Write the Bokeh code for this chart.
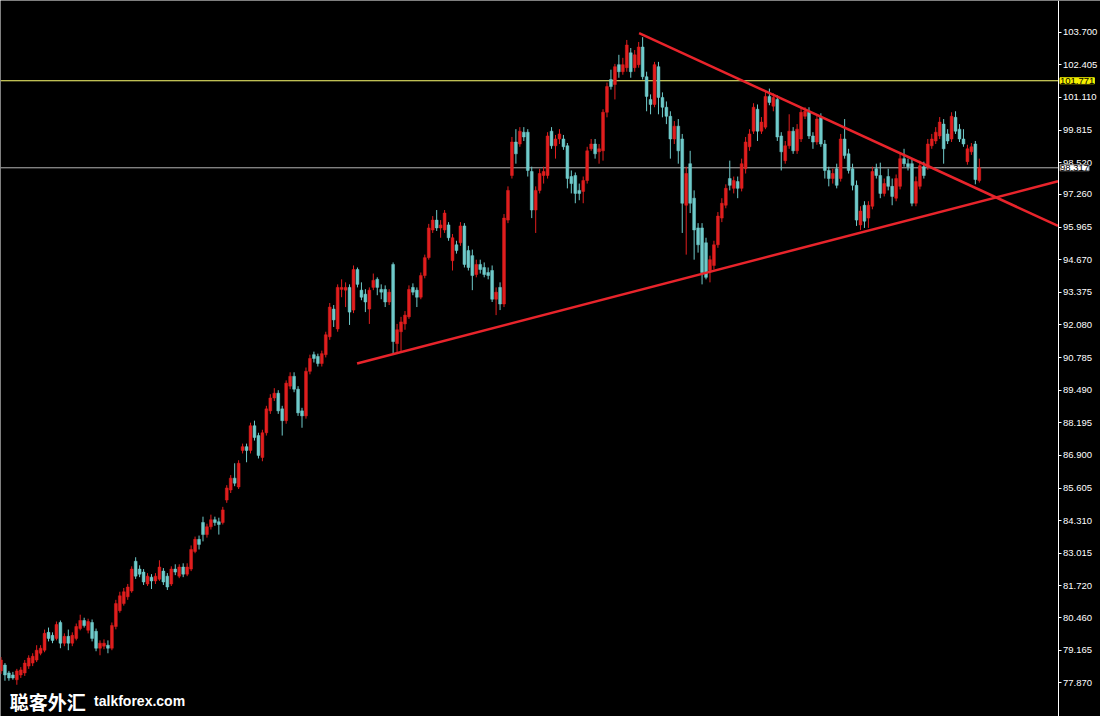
from bokeh.plotting import figure
from bokeh.models import Range1d, FixedTicker, NumeralTickFormatter, Label, ColumnDataSource
from bokeh.embed import file_html
from bokeh.resources import INLINE

# ---- candle data (daily OHLC) ----
opens = [
    78.35, 78.58, 78.27, 78.19, 78.00, 78.19, 78.27, 78.54, 78.66, 78.78,
    79.05, 79.17, 79.88, 79.76, 79.64, 80.27, 79.45, 79.72, 79.45, 79.64,
    80.03, 80.35, 79.96, 80.27, 79.92, 79.25, 79.33, 79.37, 79.25, 80.11,
    80.74, 81.02, 81.29, 81.52, 82.70, 82.39, 82.27, 81.80, 82.07, 81.92,
    81.99, 82.31, 82.11, 81.80, 82.39, 82.11, 82.47, 82.19, 82.39, 83.09,
    83.57, 84.24, 83.76, 84.07, 84.35, 84.27, 84.24, 85.13, 85.53, 86.00,
    85.65, 87.10, 87.25, 87.10, 88.08, 87.69, 86.82, 87.80, 88.67, 89.18,
    89.37, 88.75, 88.28, 89.65, 90.04, 89.53, 88.67, 88.47, 90.24, 90.90,
    90.83, 90.55, 90.90, 91.61, 92.71, 91.92, 93.49, 93.46, 93.57, 92.67,
    94.28, 93.46, 93.30, 92.71, 93.57, 93.89, 93.49, 93.49, 92.99, 94.48,
    91.34, 91.81, 92.12, 92.40, 93.57, 93.46, 93.18, 94.04, 94.75, 95.85,
    96.24, 95.93, 95.85, 96.05, 94.63, 95.26, 95.34, 96.01, 95.03, 94.83,
    94.08, 94.48, 94.36, 94.16, 94.24, 93.10, 93.57, 92.91, 96.24, 98.01,
    99.34, 99.26, 99.73, 99.73, 98.17, 96.64, 97.42, 98.01, 98.01, 99.77,
    99.19, 99.46, 99.46, 99.19, 97.97, 98.01, 97.42, 97.38, 97.81, 99.07,
    99.26, 98.95, 98.99, 100.52, 101.82, 101.62, 102.41, 102.13, 102.29, 102.88,
    102.29, 102.41, 103.11, 101.93, 101.03, 100.83, 102.33, 101.11, 100.72, 100.36,
    99.46, 99.97, 99.46, 96.83, 98.48, 97.11, 95.93, 95.93, 95.34, 94.24,
    94.44, 95.26, 96.32, 96.83, 97.89, 97.50, 97.77, 97.50, 98.28, 99.15,
    99.77, 100.64, 99.77, 99.93, 101.15, 100.76, 101.03, 99.58, 98.60, 99.19,
    99.77, 98.99, 99.46, 100.36, 100.52, 99.58, 99.34, 100.32, 99.26, 98.21,
    97.89, 98.28, 97.89, 99.46, 98.87, 98.28, 97.62, 96.05, 96.83, 96.32,
    96.79, 98.28, 98.01, 97.30, 97.97, 97.58, 97.11, 97.58, 98.68, 98.48,
    98.48, 96.91, 97.58, 98.36, 98.36, 99.19, 99.38, 99.58, 100.05, 99.66,
    99.46, 100.32, 99.85, 99.46, 98.56, 98.95, 99.26, 97.81,
]
highs = [
    78.90, 78.66, 78.35, 78.31, 78.43, 78.50, 78.78, 78.97, 79.05, 79.37,
    79.37, 79.99, 80.07, 79.88, 80.31, 80.35, 79.84, 79.99, 79.88, 80.23,
    80.58, 80.46, 80.42, 80.39, 80.03, 79.56, 79.60, 79.56, 80.27, 81.17,
    81.49, 81.64, 81.80, 82.50, 82.86, 82.54, 82.39, 82.23, 82.19, 82.23,
    82.74, 82.43, 82.23, 82.50, 82.58, 82.58, 82.62, 82.62, 83.33, 83.68,
    83.72, 84.47, 84.19, 84.55, 84.47, 84.43, 84.86, 85.72, 86.12, 86.59,
    86.71, 87.37, 87.37, 88.20, 88.28, 87.80, 87.92, 88.87, 89.33, 89.57,
    89.49, 88.87, 89.88, 90.20, 90.20, 89.65, 88.79, 90.39, 90.90, 91.02,
    90.94, 91.06, 91.81, 92.95, 92.87, 93.69, 93.89, 93.77, 93.69, 94.44,
    94.36, 93.77, 93.50, 93.57, 94.12, 93.97, 93.69, 93.65, 93.50, 94.56,
    92.12, 92.40, 92.63, 93.65, 93.73, 93.57, 94.16, 94.87, 96.09, 96.40,
    96.64, 96.24, 96.64, 96.16, 95.69, 95.42, 96.16, 96.12, 95.22, 95.07,
    94.67, 94.67, 94.56, 94.36, 94.44, 93.57, 93.77, 96.48, 97.58, 99.54,
    99.85, 99.93, 99.93, 99.85, 98.36, 97.58, 98.28, 98.36, 99.73, 99.93,
    99.62, 99.85, 99.62, 99.30, 98.21, 98.13, 97.69, 97.97, 99.15, 99.46,
    99.46, 99.26, 100.64, 101.70, 102.21, 102.44, 102.80, 102.68, 103.39, 103.07,
    102.99, 103.31, 103.50, 102.13, 101.23, 102.52, 102.52, 101.31, 100.95, 100.56,
    100.17, 100.25, 99.66, 98.36, 98.99, 97.42, 96.12, 96.12, 95.54, 94.83,
    95.42, 96.56, 97.11, 97.66, 98.60, 97.97, 97.97, 98.68, 99.54, 99.85,
    100.88, 100.83, 100.33, 101.35, 101.46, 101.27, 101.19, 99.73, 99.38, 100.44,
    99.93, 100.05, 100.72, 100.72, 100.72, 99.73, 100.44, 100.48, 99.42, 98.36,
    98.28, 98.48, 99.66, 100.25, 99.07, 98.48, 97.81, 96.79, 96.99, 96.99,
    98.36, 98.48, 98.52, 97.89, 98.28, 97.89, 98.05, 98.87, 99.07, 98.68,
    98.68, 97.97, 98.60, 98.56, 99.46, 99.66, 99.93, 100.33, 100.25, 99.85,
    100.52, 100.56, 100.05, 99.85, 99.23, 99.30, 99.38, 98.68,
]
lows = [
    78.23, 77.96, 77.96, 78.00, 77.80, 78.07, 78.15, 78.43, 78.54, 78.70,
    78.97, 79.09, 79.52, 79.45, 79.56, 79.25, 79.33, 79.17, 79.33, 79.56,
    79.96, 80.07, 79.84, 79.52, 79.13, 78.97, 79.21, 79.05, 79.17, 80.00,
    80.66, 80.94, 81.17, 81.45, 82.00, 82.07, 81.76, 81.72, 81.60, 81.80,
    81.92, 81.76, 81.56, 81.72, 82.15, 82.03, 82.07, 82.11, 82.31, 83.02,
    83.17, 83.49, 83.64, 83.96, 84.11, 83.76, 84.16, 85.02, 85.41, 85.68,
    85.57, 86.98, 86.63, 86.98, 87.49, 86.78, 86.67, 87.69, 88.55, 89.06,
    88.55, 87.69, 88.16, 89.53, 89.41, 88.47, 88.00, 88.36, 90.12, 90.59,
    90.43, 90.43, 90.79, 91.49, 92.00, 91.81, 93.18, 92.79, 92.08, 92.55,
    93.57, 93.06, 92.59, 92.12, 93.46, 93.26, 93.10, 92.79, 92.87, 90.94,
    90.94, 91.02, 91.89, 92.32, 93.26, 92.79, 93.10, 93.93, 94.67, 95.73,
    95.81, 95.54, 95.73, 95.42, 94.24, 94.91, 95.22, 94.36, 94.24, 93.46,
    93.97, 94.12, 93.97, 93.89, 92.99, 92.47, 92.67, 92.79, 96.12, 97.89,
    98.48, 99.15, 99.38, 97.97, 96.32, 95.73, 97.30, 97.69, 97.89, 99.07,
    98.68, 99.26, 99.03, 97.50, 97.30, 96.91, 97.03, 96.91, 97.69, 98.99,
    98.68, 98.48, 98.60, 100.32, 101.42, 101.03, 101.89, 102.01, 102.13, 101.89,
    102.13, 102.29, 101.82, 100.56, 100.44, 100.72, 100.44, 100.32, 100.05, 98.68,
    99.26, 98.48, 95.73, 94.87, 96.52, 94.67, 94.95, 93.69, 93.89, 93.77,
    94.28, 95.14, 96.16, 96.71, 97.42, 97.30, 97.11, 97.38, 98.09, 98.99,
    99.66, 99.38, 99.66, 99.85, 100.80, 100.56, 99.38, 98.21, 98.48, 99.07,
    98.87, 98.87, 99.34, 100.25, 99.46, 99.07, 99.23, 99.15, 97.89, 97.58,
    97.69, 97.50, 97.77, 98.68, 98.09, 97.42, 96.01, 95.85, 95.93, 95.93,
    96.67, 97.89, 97.11, 97.18, 97.42, 96.83, 96.99, 97.46, 98.36, 98.21,
    96.79, 96.79, 97.46, 97.89, 98.24, 99.07, 99.26, 99.46, 98.48, 99.26,
    99.34, 99.66, 99.34, 99.15, 98.44, 98.83, 97.66, 97.73,
]
closes = [
    78.78, 78.19, 78.07, 78.07, 78.35, 78.39, 78.66, 78.86, 78.93, 79.17,
    79.25, 79.84, 79.64, 79.56, 80.19, 79.45, 79.72, 79.45, 79.76, 80.11,
    80.35, 80.15, 80.31, 79.64, 79.25, 79.45, 79.45, 79.25, 80.15, 81.02,
    81.33, 81.49, 81.68, 82.39, 82.11, 82.19, 81.88, 82.11, 81.92, 82.11,
    82.47, 81.88, 81.68, 82.39, 82.27, 82.47, 82.19, 82.47, 83.17, 83.57,
    83.37, 83.76, 84.07, 84.35, 84.24, 84.16, 84.74, 85.61, 86.00, 85.80,
    86.59, 87.25, 87.10, 88.08, 87.61, 86.90, 87.80, 88.75, 89.18, 89.37,
    88.67, 88.28, 89.77, 90.04, 89.53, 88.59, 88.47, 90.24, 90.75, 90.75,
    90.55, 90.94, 91.69, 92.79, 92.28, 93.57, 93.57, 93.57, 92.59, 94.28,
    93.69, 93.18, 92.99, 93.46, 93.85, 93.57, 93.38, 92.99, 93.38, 91.42,
    91.89, 92.20, 92.47, 93.49, 93.38, 93.18, 94.04, 94.75, 95.93, 96.24,
    95.93, 96.05, 96.52, 95.54, 95.54, 95.03, 96.01, 94.48, 94.36, 94.04,
    94.48, 94.28, 94.08, 94.04, 93.10, 93.38, 92.91, 96.32, 97.42, 99.34,
    98.87, 99.77, 99.54, 98.21, 96.64, 97.42, 98.09, 98.17, 99.58, 99.19,
    99.46, 99.66, 99.15, 97.89, 97.69, 97.30, 97.30, 97.81, 98.99, 99.26,
    98.87, 99.07, 100.52, 101.54, 101.54, 102.33, 102.13, 102.41, 103.19, 102.13,
    102.80, 103.11, 101.93, 101.15, 100.83, 102.41, 101.11, 100.72, 100.36, 99.46,
    99.97, 98.99, 96.91, 98.09, 96.91, 95.85, 95.26, 94.16, 93.97, 94.67,
    95.26, 96.40, 96.91, 97.50, 97.62, 97.81, 97.50, 98.48, 99.34, 99.66,
    100.72, 99.77, 100.13, 101.15, 100.91, 101.11, 99.54, 98.95, 99.19, 99.77,
    98.99, 99.85, 100.52, 100.56, 99.58, 99.34, 100.25, 99.26, 98.21, 97.89,
    98.09, 97.62, 99.46, 98.80, 98.21, 97.62, 96.24, 96.60, 96.20, 96.83,
    98.17, 98.01, 97.30, 97.69, 97.58, 97.18, 97.89, 98.68, 98.48, 98.36,
    96.91, 97.77, 98.40, 98.01, 99.26, 99.46, 99.73, 100.13, 99.07, 99.38,
    100.36, 99.77, 99.46, 99.26, 99.07, 99.15, 97.85, 98.32,
]

# price-axis tick values
y_ticks = [103.700, 102.405, 101.110, 99.815, 98.520, 97.260, 95.965,
           94.670, 93.375, 92.080, 90.785, 89.490, 88.195, 86.900, 85.605,
           84.310, 83.015, 81.720, 80.460, 79.165, 77.870]

# horizontal price levels
level_marked = 101.771
level_last = 98.317

# trendlines (bar index, price)
support_x = [89.9, 266.875]
support_y = [90.55, 97.78]
resist_x = [161.1, 266.875]
resist_y = [103.66, 96.01]

RED = "#e01e1e"
CYAN = "#6fcaca"
X_START = -0.125
AXIS_X = 266.875      # bar-index position of the price axis line
X_END = 277.6         # right edge of the window
FONT_PX = "9.5px"

n = len(opens)
idx = list(range(n))
colors = [RED if c >= o else CYAN for o, c in zip(opens, closes)]
src = ColumnDataSource(dict(
    x=idx, o=opens, h=highs, l=lows, c=closes,
    top=[max(o, c) for o, c in zip(opens, closes)],
    bottom=[min(o, c) for o, c in zip(opens, closes)],
    color=colors,
))

p = figure(width=1100, height=716, output_backend="svg", toolbar_location=None,
           x_range=Range1d(X_START, X_END), y_range=Range1d(76.54, 104.956),
           x_axis_location=None, y_axis_location="right",
           background_fill_color="#000000", border_fill_color="#000000",
           min_border=0)
p.grid.visible = False
p.outline_line_color = None

ax = p.yaxis[0]
ax.fixed_location = AXIS_X
ax.ticker = FixedTicker(ticks=y_ticks)
ax.formatter = NumeralTickFormatter(format="0.000")
ax.axis_line_color = "#ffffff"
ax.major_tick_line_color = "#ffffff"
ax.major_tick_in = 0
ax.major_tick_out = 3
ax.minor_tick_line_color = None
ax.major_label_text_color = "#ffffff"
ax.major_label_text_font = "Liberation Sans"
ax.major_label_text_font_size = FONT_PX
ax.major_label_standoff = 2

# horizontal level lines, ending at the price axis
p.line([X_START, AXIS_X], [level_marked, level_marked], line_color="#ffff70", line_width=1)
p.line([X_START, AXIS_X], [level_last, level_last], line_color="#b4b4b4", line_width=1)

p.segment(x0="x", y0="l", x1="x", y1="h", line_color="color", line_width=1, source=src)
p.vbar(x="x", width=0.72, top="top", bottom="bottom", fill_color="color",
       line_color="color", line_width=0.5, source=src)

p.line(support_x, support_y, line_color="#e8242b", line_width=2.5)
p.line(resist_x, resist_y, line_color="#e8242b", line_width=2.5)

# price boxes on the axis
p.add_layout(Label(x=AXIS_X, y=level_marked, x_offset=2, text=f"{level_marked:.3f}",
                   text_color="#000000", text_font="Liberation Sans", text_font_size=FONT_PX,
                   text_baseline="middle", text_align="left", level="overlay",
                   background_fill_color="#f5f000", border_line_color="#f5f000"))
p.add_layout(Label(x=AXIS_X, y=level_last, x_offset=2, text=f"{level_last:.3f}",
                   text_color="#000000", text_font="Liberation Sans", text_font_size=FONT_PX,
                   text_baseline="middle", text_align="left", level="overlay",
                   background_fill_color="#ffffff", border_line_color="#808080"))

# watermark
p.add_layout(Label(x=2.2, y=77.15, text="聪客外汇", text_color="#ffffff",
                   text_font="Noto Sans CJK SC", text_font_style="bold",
                   text_font_size="19px", text_baseline="middle", text_align="left"))
p.add_layout(Label(x=23.5, y=77.15, text="talkforex.com", text_color="#ffffff",
                   text_font="Liberation Sans", text_font_style="bold",
                   text_font_size="14px", text_baseline="middle", text_align="left"))

open("out.html", "w").write(file_html(p, INLINE))
